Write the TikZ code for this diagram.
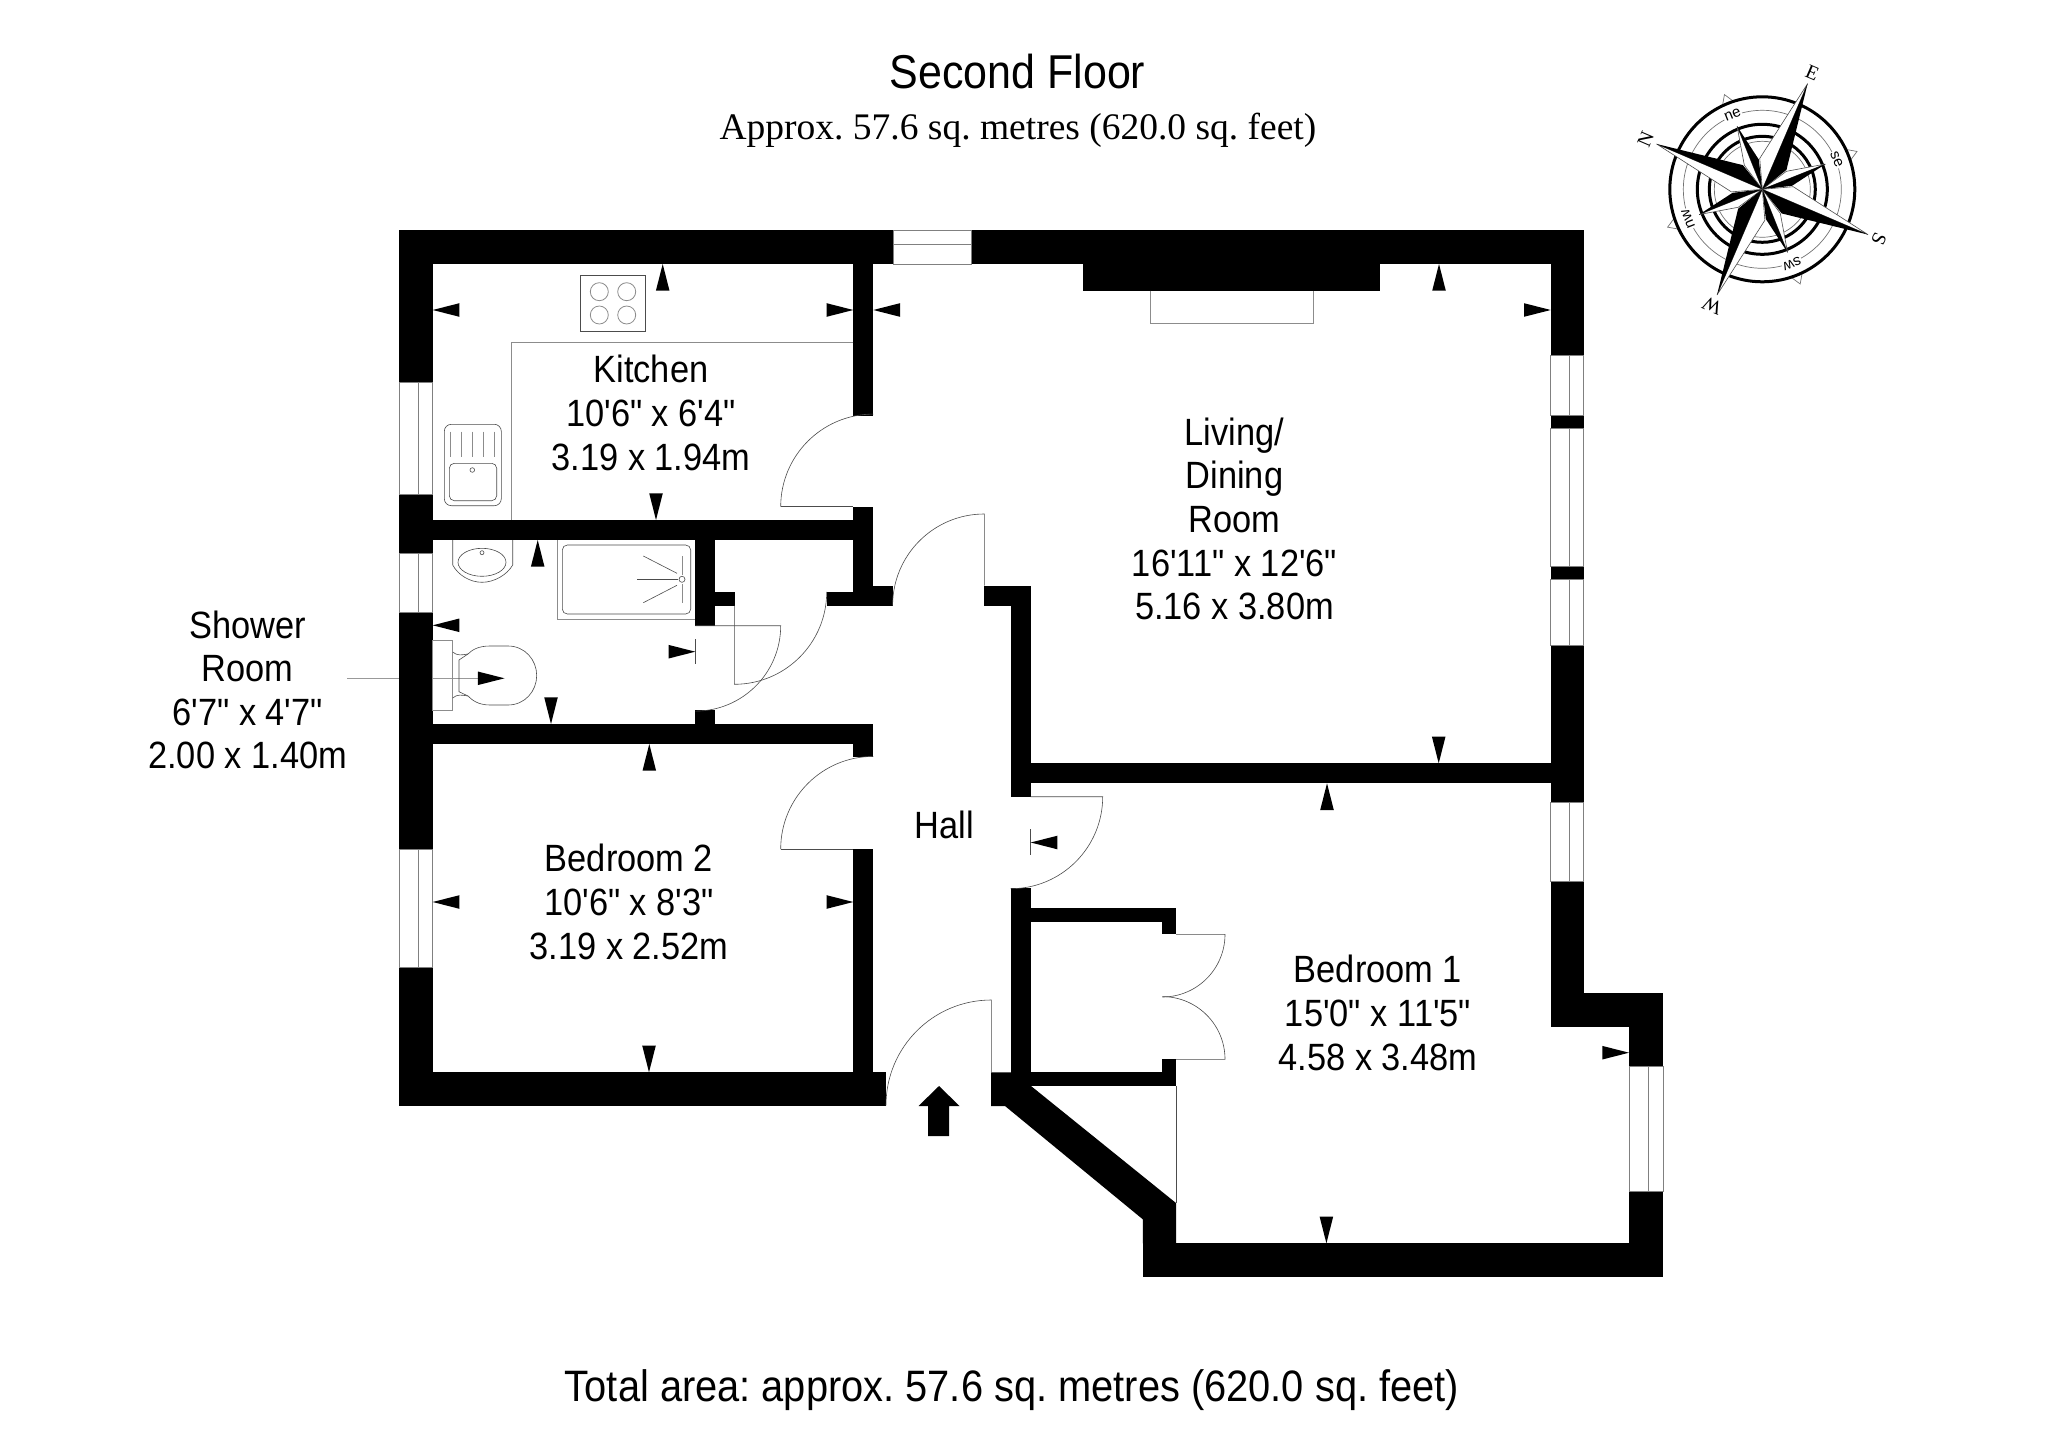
\documentclass[tikz,border=0pt]{standalone}
\usepackage{fontspec}
\setmainfont[FakeStretch=0.905,Ligatures=TeXOff]{Liberation Sans}
\newfontfamily\timesface{Liberation Serif}
\newfontfamily\roseface{Liberation Sans}

\tikzset{
  hairline/.style={line width=0.6pt,color=black!70},
  paleline/.style={line width=0.8pt,color=black!45},
  windowpane/.style={line width=0.9pt,color=black!50},
  roomlabel/.style={align=center,inner sep=0pt,font=\fontsize{38}{43.6}\selectfont},
  titlelabel/.style={inner sep=0pt,font=\fontsize{47.5}{50}\selectfont},
  ringthick/.style={line width=3pt},
  ringthin/.style={line width=0.7pt,color=black!55},
}
\newcommand{\dimtip}[3]{\fill[shift={(#1,#2)},rotate=#3] (0,0) -- (26.7,6.8) -- (26.7,-6.8) -- cycle;}
\newcommand{\winv}[4]{\draw[windowpane] (#1,#3) rectangle (#2,#4); \draw[windowpane] ({0.5*(#1+#2)+2},#3) -- ({0.5*(#1+#2)+2},#4);}

\begin{document}
\frenchspacing
\begin{tikzpicture}[x=1pt,y=-1pt]
\useasboundingbox (0,0) rectangle (2048,1447);
\path[fill=white] (0,0) rectangle (2048,1447);

\node[titlelabel] (floortitle) at (1017.5,72) {Second Floor};
\node[inner sep=0pt,font=\timesface\fontsize{37.5}{40}\selectfont] (approxline) at (1018,130) {Approx. 57.6 sq. metres (620.0 sq. feet)};
\node[inner sep=0pt,font=\fontsize{44}{48}\selectfont] (totalline) at (1012,1390) {Total area: approx. 57.6 sq. metres (620.0 sq. feet)};

\node[roomlabel] (kitchen) at (651,413) {Kitchen\\10'6" x 6'4"\\3.19 x 1.94m};
\node[roomlabel] (livingroom) at (1234.5,519) {Living/\\Dining\\Room\\16'11" x 12'6"\\5.16 x 3.80m};
\node[roomlabel] (bedroomtwo) at (629,902) {Bedroom 2\\10'6" x 8'3"\\3.19 x 2.52m};
\node[roomlabel] (bedroomone) at (1378,1013) {Bedroom 1\\15'0" x 11'5"\\4.58 x 3.48m};
\node[roomlabel] (hall) at (944.3,825) {Hall};
\node[roomlabel] (showerroom) at (247.7,690) {Shower\\Room\\6'7" x 4'7"\\2.00 x 1.40m};
\coordinate (leadend) at (478,678.3);
\draw[line width=0.6pt,color=black!40] (showerroom.east |- leadend) -- (leadend);

\fill (399.3,230) rectangle (893,264);
\fill (971,230) rectangle (1583.7,264);
\fill (1083,264) rectangle (1379.5,290.7);
\fill (399.3,230) rectangle (432.7,382.3);
\fill (399.3,494) rectangle (432.7,553.3);
\fill (399.3,612.3) rectangle (432.7,849);
\fill (399.3,967) rectangle (432.7,1106);
\fill (399.3,1072.3) rectangle (886,1106);
\fill (432.7,520) rectangle (873.3,540);
\fill (432.7,724) rectangle (873.3,744);
\fill (853.3,264) rectangle (873.3,415.7);
\fill (853.3,506.7) rectangle (873.3,605.7);
\fill (853.3,724) rectangle (873.3,757.3);
\fill (853.3,849) rectangle (873.3,1106);
\fill (826.7,592.3) rectangle (893.3,605.7);
\fill (873.3,585.7) rectangle (893.3,605.7);
\fill (695.3,540) rectangle (715,625.7);
\fill (715,592.3) rectangle (735,605.7);
\fill (695.3,710) rectangle (715,724);
\fill (984.3,585.7) rectangle (1031,605.7);
\fill (1011,585.7) rectangle (1031,796.7);
\fill (1011,888.3) rectangle (1031,1086);
\fill (1011,763.3) rectangle (1550.7,783.3);
\fill (1031,908.3) rectangle (1176,921.7);
\fill (1162.3,921.7) rectangle (1176,934.3);
\fill (1162.3,1059.3) rectangle (1176,1072.3);
\fill (1031,1072.3) rectangle (1176,1086);
\fill (991,1072.3) -- (1031,1072.3) -- (1031,1086) -- (1176,1203) -- (1176,1243.3)
	-- (1142.8,1243.3) -- (1142.8,1219.3) -- (1005,1106) -- (991,1106) -- cycle;
\fill (1142.8,1243.3) rectangle (1663,1276.7);
\fill (1550.7,230) rectangle (1583.7,355.7);
\fill (1550.7,415) rectangle (1583.7,428.3);
\fill (1550.7,566.7) rectangle (1583.7,579.7);
\fill (1550.7,645) rectangle (1583.7,802.7);
\fill (1550.7,881.7) rectangle (1583.7,1026.7);
\fill (1583.7,993.3) rectangle (1663,1026.7);
\fill (1629,993.3) rectangle (1663,1066.7);
\fill (1629,1191) rectangle (1663,1276.7);

\winv{399.3}{432.7}{382.3}{494}
\winv{399.3}{432.7}{553.3}{612.3}
\winv{399.3}{432.7}{849}{967}
\winv{1550.7}{1583.7}{355.7}{415}
\winv{1550.7}{1583.7}{428.3}{566.7}
\winv{1550.7}{1583.7}{579.7}{645}
\winv{1550.7}{1583.7}{802.7}{881.7}
\winv{1629}{1663}{1066.7}{1191}
\draw[windowpane] (893,230) rectangle (971,264);
\draw[windowpane] (893,244) -- (971,244);

\draw[hairline] (780.7,506.7) -- (853.3,506.7);
\draw[hairline] (780.7,506.7) arc[start angle=180,end angle=90,radius=92.6pt];
\draw[hairline] (984.3,585.7) -- (984.3,514) arc[start angle=90,end angle=180,radius=91.7pt];
\draw[hairline] (695.3,625.7) -- (780.7,625.7) arc[start angle=0,end angle=-90,radius=85.4pt];
\draw[hairline] (734.3,605.7) -- (734.3,684.3) arc[start angle=270,end angle=360,radius=92.4pt];
\draw[hairline] (780.7,849) -- (853.3,849);
\draw[hairline] (780.7,849) arc[start angle=180,end angle=90,radius=92.6pt];
\draw[hairline] (1030.7,796.7) -- (1102.7,796.7) arc[start angle=0,end angle=-90,radius=92pt];
\draw[hairline] (1176,934.3) -- (1225,934.3) arc[start angle=0,end angle=-90,radius=62.7pt];
\draw[hairline] (1176,1059.3) -- (1225,1059.3) arc[start angle=0,end angle=90,radius=62.7pt];
\draw[hairline] (991.3,1072.3) -- (991.3,1000) arc[start angle=90,end angle=180,radius=105.3pt];
\draw[hairline] (1176,1086) -- (1176,1203);

\draw[paleline] (853.3,342.7) -- (511.7,342.7) -- (511.7,520);
\draw[paleline] (1150,290.7) -- (1150,323) -- (1313.5,323) -- (1313.5,290.7);

\draw[hairline] (580.3,275.3) rectangle (645.7,331.3);
\foreach \cx in {599.3,626.7}
  \foreach \cy in {291.7,315}
    \draw[paleline] (\cx,\cy) circle (9pt);

\draw[hairline,rounded corners=7pt] (444.3,424.3) rectangle (501.3,505.7);
\draw[hairline,rounded corners=5pt] (449.3,463.3) rectangle (496.7,500.7);
\draw[hairline] (472.3,470) circle (2.3pt);
\foreach \rx in {450,461,472,483,494}
  \draw[paleline] (\rx,431.7) -- (\rx,456.7);

\draw[hairline] (452.7,540) -- (452.7,565) .. controls (458,575) and (470,582.3) .. (482,582.3)
	.. controls (494,582.3) and (507,575) .. (512.7,565) -- (512.7,540);
\draw[hairline] (482,562.3) ellipse (24pt and 14pt);
\draw[hairline] (482,552.7) circle (2pt);

\draw[paleline] (557.3,540) -- (557.3,619.3) -- (695.3,619.3);
\draw[hairline,rounded corners=5pt] (562.3,545) rectangle (690.7,614);
\draw[hairline] (682,579.3) circle (3pt);
\draw[hairline] (637.3,579.3) -- (678,579.3);
\draw[hairline] (643.3,556) -- (677,573.3);
\draw[hairline] (643.3,602.7) -- (677,585.3);
\draw[paleline] (682.7,556) -- (682.7,575);
\draw[paleline] (682.7,584) -- (682.7,602.7);

\draw[paleline] (432.7,640) rectangle (452.7,710.3);
\draw[hairline] (452.7,652) .. controls (457,656) and (462,655) .. (468,654);
\draw[hairline] (452.7,698) .. controls (457,694) and (462,695) .. (468,696);
\draw[hairline] (459,660) -- (468,654) .. controls (472,650) and (478,646) .. (490,646) -- (508,646)
	.. controls (525,646) and (536.7,660) .. (536.7,675.5)
	.. controls (536.7,691) and (525,705) .. (508,705) -- (490,705)
	.. controls (478,705) and (472,700) .. (468,696) -- (459,691.7) -- cycle;

\draw[hairline] (695.3,639) -- (695.3,664);
\draw[hairline] (1030.7,829) -- (1030.7,855);

\dimtip{432.7}{310}{0}
\dimtip{853.3}{310}{180}
\dimtip{662.7}{264}{-90}
\dimtip{656}{520}{90}
\dimtip{873.3}{310}{0}
\dimtip{1439}{264}{-90}
\dimtip{1550.7}{310}{180}
\dimtip{1438.7}{763.3}{90}
\dimtip{1327}{783.3}{-90}
\dimtip{1326.4}{1243.3}{90}
\dimtip{1629}{1052.7}{180}
\dimtip{1030.7}{842.5}{0}
\dimtip{537.7}{540}{-90}
\dimtip{432.7}{625.3}{0}
\dimtip{551}{724}{90}
\dimtip{695.3}{651.7}{180}
\dimtip{504.5}{678.3}{180}
\dimtip{649.3}{744}{-90}
\dimtip{649}{1072.3}{90}
\dimtip{432.7}{902}{0}
\dimtip{853.3}{902}{180}

\fill (939,1086) -- (959.5,1106) -- (949,1106) -- (949,1136) -- (928,1136) -- (928,1106) -- (918.5,1106) -- cycle;

\begin{scope}[shift={(1762.3,189.3)},y=1pt]
\foreach \a in {21.8,111.8,201.8,291.8}
  \draw[ringthin,fill=white] (\a-3.5:93) -- (\a:102) -- (\a+3.5:93);
\draw[ringthick] (0,0) circle (92.5pt);
\draw[ringthin] (0,0) circle (79pt);
\draw[ringthick] (0,0) circle (65pt);
\draw[ringthick] (0,0) circle (53pt);
\draw[ringthin] (0,0) circle (48pt);
\foreach \a/\l in {21.8/se,111.8/ne,201.8/nw,291.8/sw}
  \node[inner sep=1pt,fill=white,rotate=\a-90,font=\roseface\fontsize{15}{15}\selectfont] (rose\l) at (\a:80) {\l};
\foreach \a in {21.8,111.8,201.8,291.8} {
  \draw[hairline,fill=white] (0,0) -- (\a:68) -- (\a+15:30) -- cycle;
  \fill (0,0) -- (\a:68) -- (\a-15:30) -- cycle;
}
\foreach \a/\l in {66.8/E,156.8/N,246.8/W,336.8/S} {
  \draw[hairline,fill=white] (0,0) -- (\a:115) -- (\a+28:31) -- cycle;
  \fill (0,0) -- (\a:115) -- (\a-28:31) -- cycle;
  \node[inner sep=0pt,rotate=\a-90,font=\timesface\fontsize{20}{20}\selectfont] (rose\l) at (\a:127) {\l};
}
\end{scope}
\end{tikzpicture}
\end{document}
